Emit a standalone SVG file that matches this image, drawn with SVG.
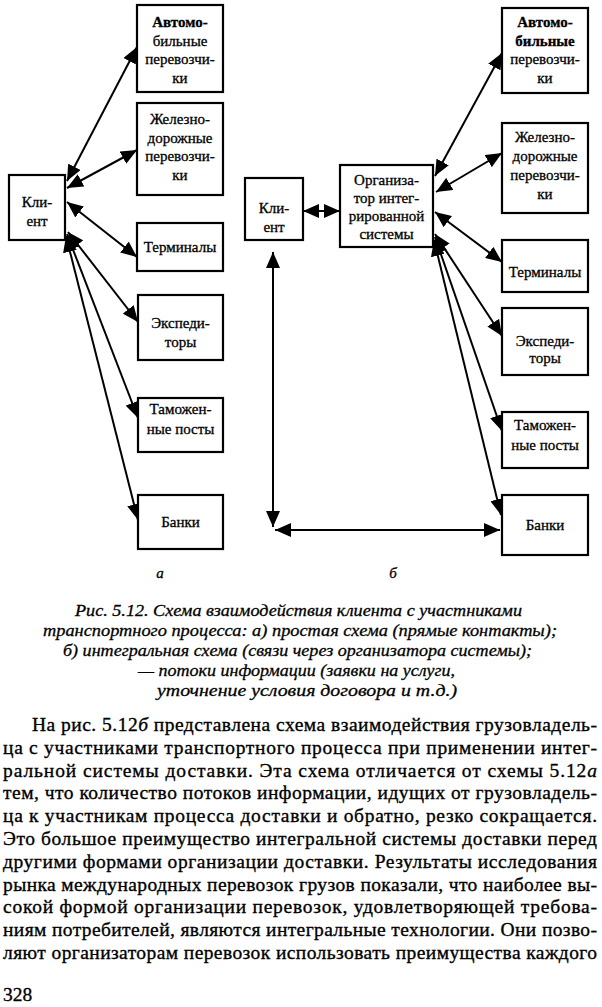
<svg xmlns="http://www.w3.org/2000/svg" width="602" height="1007" viewBox="0 0 602 1007">
<defs>
<marker id="ah" markerUnits="userSpaceOnUse" markerWidth="17" markerHeight="14" refX="16" refY="7" orient="auto-start-reverse">
<path d="M0,0 L16,7 L0,14 z" fill="#000"/>
</marker>
</defs>
<style>
.box{fill:#fff;stroke:#000;stroke-width:2.2}
.lbl{font-family:'Liberation Serif','Times New Roman',Tinos,serif;font-size:15px;text-anchor:middle;fill:#000;stroke:#000;stroke-width:0.3}
.b{font-weight:bold}
.con{stroke:#000;stroke-width:2;fill:none;marker-start:url(#ah);marker-end:url(#ah)}
.cap{font-family:'Liberation Serif','Times New Roman',Tinos,serif;font-size:17.5px;font-style:italic;fill:#000;stroke:#000;stroke-width:0.3}
.body{font-family:'Liberation Serif','Times New Roman',Tinos,serif;font-size:19.5px;fill:#000;stroke:#000;stroke-width:0.35}
.it{font-style:italic}
</style>
<rect width="602" height="1007" fill="#fff"/>

<g id="connectors">
<line class="con" x1="67" y1="181" x2="137" y2="47"/>
<line class="con" x1="67" y1="188" x2="137" y2="150"/>
<line class="con" x1="67" y1="202" x2="137" y2="257"/>
<line class="con" x1="68" y1="232" x2="138" y2="322"/>
<line class="con" x1="67" y1="234" x2="138" y2="418"/>
<line class="con" x1="66" y1="236" x2="138" y2="520"/>

<line class="con" x1="303" y1="211" x2="340" y2="211"/>
<line class="con" x1="273" y1="252" x2="273" y2="527"/>
<line class="con" x1="275" y1="530" x2="500" y2="530"/>
<line class="con" x1="435" y1="176" x2="502" y2="53"/>
<line class="con" x1="436" y1="192" x2="502" y2="153"/>
<line class="con" x1="435" y1="212" x2="502" y2="262"/>
<line class="con" x1="435" y1="234" x2="502" y2="336"/>
<line class="con" x1="435" y1="237" x2="502" y2="431"/>
<line class="con" x1="434" y1="240" x2="501" y2="515"/>
</g>

<g id="a-client">
<rect class="box" x="9" y="175" width="56" height="65"/>
<text class="lbl" x="37" y="207">Кли-</text>
<text class="lbl" x="37" y="226">ент</text>
</g>
<g id="a-auto">
<rect class="box" x="137" y="5" width="86" height="87"/>
<text class="lbl b" x="180" y="27">Автомо-</text>
<text class="lbl" x="180" y="45.5">бильные</text>
<text class="lbl" x="180" y="64">перевозчи-</text>
<text class="lbl" x="180" y="82.5">ки</text>
</g>
<g id="a-rail">
<rect class="box" x="137" y="103" width="86" height="92"/>
<text class="lbl" x="180" y="124">Железно-</text>
<text class="lbl" x="180" y="142.5">дорожные</text>
<text class="lbl" x="180" y="161">перевозчи-</text>
<text class="lbl" x="180" y="179.5">ки</text>
</g>
<g id="a-term">
<rect class="box" x="137" y="223" width="86" height="48"/>
<text class="lbl" x="180" y="252">Терминалы</text>
</g>
<g id="a-exp">
<rect class="box" x="138" y="295" width="85" height="65"/>
<text class="lbl" x="180.5" y="328">Экспеди-</text>
<text class="lbl" x="180.5" y="347">торы</text>
</g>
<g id="a-cust">
<rect class="box" x="138" y="398" width="85" height="54"/>
<text class="lbl" x="180.5" y="414">Таможен-</text>
<text class="lbl" x="180.5" y="434">ные посты</text>
</g>
<g id="a-bank">
<rect class="box" x="138" y="495" width="85" height="54"/>
<text class="lbl" x="180.5" y="527">Банки</text>
</g>
<text class="lbl" style="font-style:italic" x="160" y="578">а</text>

<g id="b-client">
<rect class="box" x="245" y="178" width="58" height="62"/>
<text class="lbl" x="274" y="213">Кли-</text>
<text class="lbl" x="274" y="232">ент</text>
</g>
<g id="b-org">
<rect class="box" x="340" y="165" width="93" height="82"/>
<text class="lbl" x="386.5" y="185">Организа-</text>
<text class="lbl" x="386.5" y="203">тор интег-</text>
<text class="lbl" x="386.5" y="221">рированной</text>
<text class="lbl" x="386.5" y="239">системы</text>
</g>
<g id="b-auto">
<rect class="box" x="502" y="8" width="86" height="85"/>
<text class="lbl b" x="545" y="27">Автомо-</text>
<text class="lbl b" x="545" y="45.5">бильные</text>
<text class="lbl" x="545" y="64">перевозчи-</text>
<text class="lbl" x="545" y="82.5">ки</text>
</g>
<g id="b-rail">
<rect class="box" x="502" y="123" width="86" height="90"/>
<text class="lbl" x="545" y="142">Железно-</text>
<text class="lbl" x="545" y="161">дорожные</text>
<text class="lbl" x="545" y="180">перевозчи-</text>
<text class="lbl" x="545" y="198.5">ки</text>
</g>
<g id="b-term">
<rect class="box" x="502" y="240" width="86" height="52"/>
<text class="lbl" x="545" y="277">Терминалы</text>
</g>
<g id="b-exp">
<rect class="box" x="502" y="308" width="86" height="67"/>
<text class="lbl" x="545" y="346">Экспеди-</text>
<text class="lbl" x="545" y="363">торы</text>
</g>
<g id="b-cust">
<rect class="box" x="502" y="412" width="86" height="56"/>
<text class="lbl" x="545" y="430">Таможен-</text>
<text class="lbl" x="545" y="450">ные посты</text>
</g>
<g id="b-bank">
<rect class="box" x="502" y="495" width="86" height="60"/>
<text class="lbl" x="545" y="530">Банки</text>
</g>
<text class="lbl" style="font-style:italic" x="393" y="578">б</text>

<g id="caption">
<text class="cap" x="75" y="616" textLength="447" lengthAdjust="spacingAndGlyphs">Рис. 5.12. Схема взаимодействия клиента с участниками</text>
<text class="cap" x="43" y="636" textLength="514" lengthAdjust="spacingAndGlyphs">транспортного процесса: а) простая схема (прямые контакты);</text>
<text class="cap" x="63" y="656" textLength="469" lengthAdjust="spacingAndGlyphs">б) интегральная схема (связи через организатора системы);</text>
<text class="cap" x="138" y="676" textLength="317" lengthAdjust="spacingAndGlyphs">— потоки информации (заявки на услуги,</text>
<text class="cap" x="157" y="696" textLength="300" lengthAdjust="spacingAndGlyphs">уточнение условия договора и т.д.)</text>
</g>

<g id="body">
<text class="body" x="32" y="731" textLength="565" lengthAdjust="spacing">На рис. 5.12<tspan class="it">б</tspan> представлена схема взаимодействия грузовладель-</text>
<text class="body" x="3" y="753.8" textLength="594" lengthAdjust="spacing">ца с участниками транспортного процесса при применении интег-</text>
<text class="body" x="3" y="776.6" textLength="594" lengthAdjust="spacing">ральной системы доставки. Эта схема отличается от схемы 5.12<tspan class="it">а</tspan></text>
<text class="body" x="3" y="799.4" textLength="594" lengthAdjust="spacing">тем, что количество потоков информации, идущих от грузовладель-</text>
<text class="body" x="3" y="822.2" textLength="594" lengthAdjust="spacing">ца к участникам процесса доставки и обратно, резко сокращается.</text>
<text class="body" x="3" y="845" textLength="594" lengthAdjust="spacing">Это большое преимущество интегральной системы доставки перед</text>
<text class="body" x="3" y="867.8" textLength="594" lengthAdjust="spacing">другими формами организации доставки. Результаты исследования</text>
<text class="body" x="3" y="890.6" textLength="594" lengthAdjust="spacing">рынка международных перевозок грузов показали, что наиболее вы-</text>
<text class="body" x="3" y="913.4" textLength="594" lengthAdjust="spacing">сокой формой организации перевозок, удовлетворяющей требова-</text>
<text class="body" x="3" y="936.2" textLength="594" lengthAdjust="spacing">ниям потребителей, являются интегральные технологии. Они позво-</text>
<text class="body" x="3" y="959" textLength="594" lengthAdjust="spacing">ляют организаторам перевозок использовать преимущества каждого</text>
<text class="body" x="3" y="1001">328</text>
</g>
</svg>
